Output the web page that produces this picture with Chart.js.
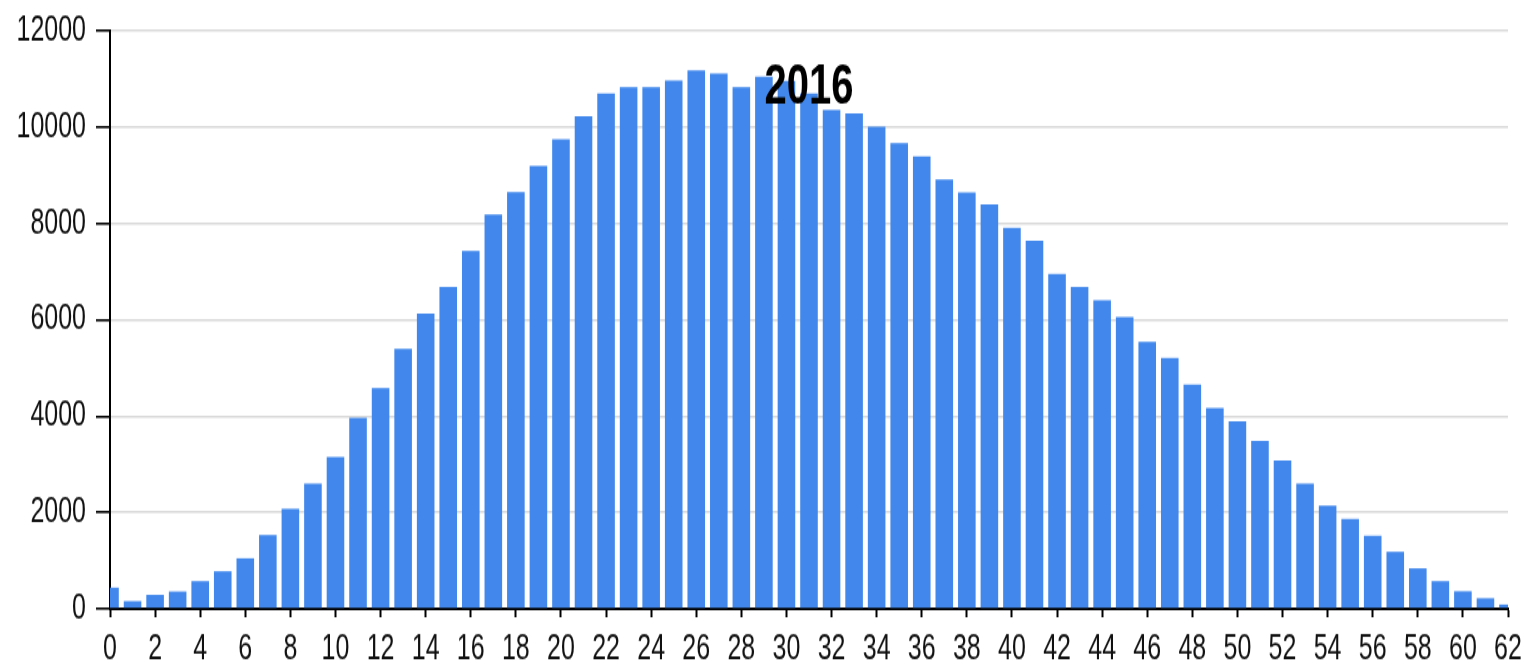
<!DOCTYPE html>
<html>
<head>
<meta charset="utf-8">
<script src="https://cdn.jsdelivr.net/npm/chart.js@4"></script>
<style>
  html { overflow: hidden; }
  body { margin: 0; padding: 0; background: #fff; width: 1524px; height: 669px; }
  /* the source picture is stretched vertically, so the chart is drawn short and scaled up */
  #wrap { width: 1524px; height: 478px; transform: scaleY(1.39958); transform-origin: 0 0; }
</style>
</head>
<body>
<div id="wrap"><canvas id="chartContainer"></canvas></div>
<script>
// Values
const titleText = '2016';
const positions = [
    0, 1, 2, 3, 4, 5, 6, 7, 8, 9,
    10, 11, 12, 13, 14, 15, 16, 17, 18, 19,
    20, 21, 22, 23, 24, 25, 26, 27, 28, 29,
    30, 31, 32, 33, 34, 35, 36, 37, 38, 39,
    40, 41, 42, 43, 44, 45, 46, 47, 48, 49,
    50, 51, 52, 53, 54, 55, 56, 57, 58, 59,
    60, 61, 62
];
const counts = [
    440, 160, 290, 360, 575, 780, 1050, 1530, 2080, 2600,
    3150, 3965, 4585, 5400, 6130, 6680, 7430, 8190, 8650, 9195,
    9745, 10230, 10700, 10830, 10830, 10970, 11180, 11115, 10830, 11045,
    10960, 10700, 10355, 10285, 10010, 9665, 9390, 8910, 8645, 8400,
    7910, 7640, 6955, 6680, 6405, 6060, 5540, 5205, 4655, 4170,
    3895, 3485, 3080, 2600, 2140, 1865, 1520, 1185, 840, 575,
    365, 220, 90
];
const yTicks = [0, 2000, 4000, 6000, 8000, 10000, 12000];

const tickFont = { family: '"Liberation Sans", Arial, sans-serif', size: 25 };

// Draws the year label over the bars, centred on the plot
const yearLabel = {
    id: 'yearLabel',
    afterDatasetsDraw(chart) {
        const ctx = chart.ctx;
        const area = chart.chartArea;
        ctx.save();
        ctx.font = 'bold 40px "Liberation Sans", Arial, sans-serif';
        ctx.fillStyle = '#000';
        ctx.textAlign = 'center';
        ctx.textBaseline = 'middle';
        ctx.fillText(titleText, (area.left + area.right) / 2, area.top + 41);
        ctx.restore();
    }
};

function renderChart() {
    const ctx = document.getElementById('chartContainer').getContext('2d');
    const points = positions.map((p, i) => ({ x: p, y: counts[i] }));

    new Chart(ctx, {
        type: 'bar',
        data: {
            datasets: [{
                data: points,
                backgroundColor: '#4288ec',
                barPercentage: 0.78,
                categoryPercentage: 1.0
            }]
        },
        options: {
            responsive: true,
            maintainAspectRatio: false,
            animation: false,
            layout: { padding: { top: 22, right: 16, left: 0, bottom: 0 } },
            plugins: {
                legend: { display: false },
                tooltip: { enabled: false }
            },
            scales: {
                x: {
                    type: 'linear',
                    min: 0,
                    max: 62,
                    offset: false,
                    afterFit(scale) {
                        scale.height = 43;
                        scale.paddingLeft = 0;
                        scale.paddingRight = 0;
                    },
                    grid: {
                        offset: false,
                        drawOnChartArea: false,
                        drawTicks: true,
                        tickLength: 6,
                        tickColor: '#000',
                        tickWidth: 2
                    },
                    border: { display: true, color: '#000', width: 2 },
                    ticks: {
                        stepSize: 2,
                        autoSkip: false,
                        maxRotation: 0,
                        padding: 8,
                        color: '#111',
                        font: tickFont
                    }
                },
                y: {
                    min: 0,
                    max: 12000,
                    afterFit(scale) {
                        scale.width = 110;
                        scale.paddingTop = 0;
                        scale.paddingBottom = 0;
                    },
                    afterBuildTicks(scale) {
                        scale.ticks = yTicks.map(v => ({ value: v }));
                    },
                    grid: {
                        color: '#d9d9d9',
                        lineWidth: 1.6,
                        drawTicks: true,
                        tickLength: 14,
                        tickColor: '#000',
                        tickWidth: 1.6
                    },
                    border: { display: true, color: '#000', width: 2 },
                    ticks: {
                        padding: 10,
                        color: '#111',
                        font: tickFont,
                        callback: v => String(v)
                    }
                }
            }
        },
        plugins: [yearLabel]
    });
}

renderChart();
</script>
</body>
</html>
